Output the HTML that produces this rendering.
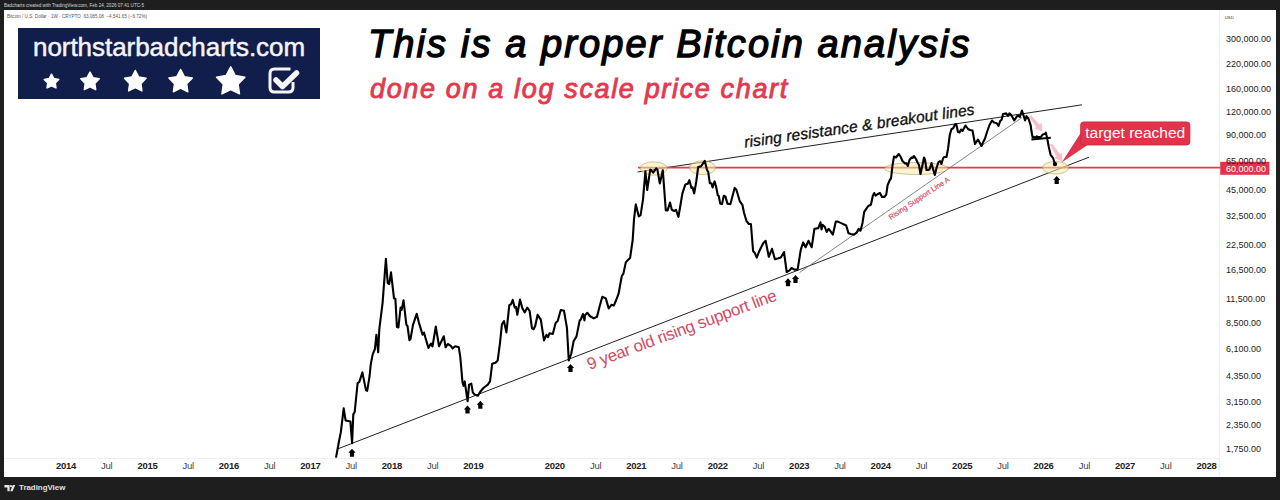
<!DOCTYPE html>
<html><head><meta charset="utf-8"><style>
*{margin:0;padding:0;box-sizing:border-box}
html,body{width:1280px;height:500px;overflow:hidden;background:#1e1e1e;font-family:"Liberation Sans",sans-serif}
#hdr{position:absolute;left:4px;top:0;height:10px;font-size:4.6px;line-height:11px;color:#d8d8d8;white-space:nowrap}
#panel{position:absolute;left:4px;top:10px;width:1272px;height:467px;background:#fff;overflow:hidden}
#sym{position:absolute;left:7px;top:12.5px;font-size:4.6px;line-height:7px;color:#555;white-space:nowrap}
.pl{position:absolute;left:1226px;width:60px;text-align:left;font-size:9px;line-height:12px;color:#1c1c1c;white-space:nowrap}
.tl{position:absolute;top:460.4px;width:40px;text-align:center;font-size:9.5px;letter-spacing:-0.25px;line-height:12px;color:#444;white-space:nowrap}
.tl.b{font-weight:bold;color:#222}
#foot{position:absolute;left:19px;top:483.3px;font-size:7.9px;line-height:10px;font-weight:bold;color:#e0e0e0;white-space:nowrap}
#logo{position:absolute;left:18px;top:28px;width:302px;height:71px;background:#111e4c}
#logotxt{position:absolute;left:33px;top:31.5px;font-size:26px;line-height:30px;color:#f4f4f4;letter-spacing:-0.05px;-webkit-text-stroke:0.5px #f4f4f4;white-space:nowrap}
#title{position:absolute;left:368px;top:21.5px;letter-spacing:2.1px;font-size:38px;line-height:44px;font-weight:normal;-webkit-text-stroke:1.3px #000;font-style:italic;color:#000;white-space:nowrap}
#sub{position:absolute;left:370px;top:72.5px;letter-spacing:1.65px;font-size:27px;line-height:32px;font-weight:normal;-webkit-text-stroke:0.9px #e23a50;font-style:italic;color:#e23a50;white-space:nowrap}
svg{position:absolute;left:0;top:0;overflow:visible}
</style></head><body>
<div id="hdr">Badcharts created with TradingView.com, Feb 24, 2026 07:41 UTC-5</div>
<div id="panel"></div>
<svg width="1280" height="500">
  <line x1="4" y1="458.5" x2="1219" y2="458.5" stroke="#eee" stroke-width="1"/>
  <line x1="1219.5" y1="10" x2="1219.5" y2="476" stroke="#eee" stroke-width="1"/>
  <line x1="337" y1="449.2" x2="1089" y2="157.2" stroke="#222" stroke-width="1"/>
  <line x1="637.5" y1="172" x2="1082" y2="104.8" stroke="#222" stroke-width="1"/>
  <line x1="799.6" y1="272.5" x2="1022" y2="117.5" stroke="#777" stroke-width="0.9"/>
  <line x1="638" y1="167.7" x2="1220" y2="167.7" stroke="#d9404c" stroke-width="1.8"/>
  <g fill="#f9e9a8" fill-opacity="0.55" stroke="#a8935a" stroke-opacity="0.6" stroke-width="0.9">
    <ellipse cx="653.7" cy="168.5" rx="13.5" ry="6.7"/>
    <ellipse cx="702.5" cy="167.7" rx="13.1" ry="6.9"/>
    <ellipse cx="916.25" cy="168.5" rx="31.75" ry="6"/>
    <ellipse cx="1055.5" cy="167.8" rx="13.1" ry="6.3"/>
  </g>
  <path d="M336,457.6 L339.1,440.8 L340.8,432.4 L343.7,408.4 L345.6,420.4 L350.4,421.6 L352.1,443.2 L353.3,414.4 L354.7,412 L357.6,383.2 L359.3,382 L362.4,372.4 L366,390.4 L367.2,390.9 L369.6,376 L370.8,364 L372.7,354.4 L374.9,349 L376.4,334.7 L378.2,352.3 L379.3,329.2 L382.6,302.8 L385.9,258.8 L387.7,283 L389.2,284.1 L391,272.4 L394,298.4 L395.4,298.8 L396.9,327 L398.4,327.4 L400.6,307.6 L401.7,309.8 L403.5,300.2 L406.4,324.8 L407.5,325.9 L409.4,340.2 L410.5,339.1 L413,324.8 L416.7,313.8 L418.9,322.6 L422.6,334.7 L424,332.5 L425.5,338 L428.4,347.9 L431,343.5 L432.5,346.4 L435.8,326.6 L439,346.2 L441.2,341.8 L443.8,336.3 L445.6,347.3 L447.8,344 L450.8,345.8 L452.6,348.4 L455.2,346.2 L458.8,347.3 L460.3,357.2 L462.5,382.5 L463.6,385.8 L464.7,381.4 L467.6,401.2 L469.1,384.7 L471.3,383.6 L472.8,392.4 L474.6,394.6 L477.9,395.7 L480.1,392 L483.4,388 L487.8,384.7 L490,381.4 L492.2,363.8 L495.5,362.7 L497.7,360.5 L500,342.8 L501.9,324.4 L504,321.2 L506.4,332.4 L509.3,305.2 L510.9,304.4 L512.8,299.9 L514.7,307.6 L516,306.8 L517.3,314.8 L520,299.6 L522.4,308.4 L524.8,312.4 L527.2,307.6 L529.6,310.8 L532,328.4 L533.6,329.2 L535.2,326 L537.6,314.8 L540.8,319.6 L544,340.4 L546.4,334.8 L548,337.2 L549.6,333.2 L552.8,334 L555.7,322.8 L557.6,321.2 L560.8,310 L564,310.8 L566.9,327.6 L568.8,360.4 L571.2,354 L573.6,341.2 L576.5,336.4 L579.7,320.4 L580.8,319.6 L582.9,314 L584.5,320.4 L585,315.2 L587.4,312.8 L589.8,316 L593.8,318.4 L597,316.8 L599.4,307.2 L602.3,296.8 L605.8,298.4 L608.7,308.5 L611.4,304.8 L613.8,305.6 L616.2,300 L618.6,293.6 L621.8,276 L623.4,273.6 L625.8,262.4 L627.9,260 L630.1,257.9 L632.7,240 L634,219.4 L635.8,204.4 L638.8,216.4 L640.6,215.2 L643,199.6 L645.4,171.4 L647.2,190 L650.2,169.6 L651.2,170.2 L653.2,172.6 L656.2,168.4 L657.4,169.6 L659.8,183.4 L662.8,170.2 L665.8,210.4 L667.6,210.4 L670,202.6 L671.8,209.8 L674.2,211 L676,209.8 L678.4,217 L680,207.8 L682.4,193.4 L685.4,184.4 L687.8,183.8 L689.4,180.2 L691.4,188 L692.6,187.4 L694.2,193.4 L696.2,182 L698.2,167 L701,166.4 L704.8,160.8 L707,170 L708.2,171.8 L709.8,183.2 L711.4,183.2 L712.6,187.4 L714.6,181.4 L716,186.2 L717.8,195.2 L718.7,195.8 L720.2,203.6 L722,204.2 L723.8,195.8 L725.4,196.4 L727.4,203.6 L730.4,204.2 L734.6,188 L736.4,189.8 L739.4,200 L740,201.6 L742.4,204.8 L744,212.8 L746.4,220.8 L748.8,224 L750.9,224 L753.1,251.2 L754.7,252.8 L756.8,257.6 L758.9,252 L760.8,248 L763.2,243.2 L765.6,240.8 L768.8,256.8 L772,248.8 L774.9,259.2 L777.6,258.4 L780.8,257.6 L784,252 L786.7,272 L789.6,270.4 L791.5,268 L794.4,269.6 L797.6,269.6 L800.8,249.6 L803.2,242.4 L805.6,247.2 L808.5,240.8 L811.7,247.2 L814.4,228.8 L815,228.8 L818.3,228.1 L820.5,222.3 L821.5,229.4 L822.8,224.9 L824.8,226.8 L826.7,232 L828.7,228.8 L830.6,231.4 L832.9,234.6 L835.8,221.6 L837.8,221.6 L842.3,223.6 L846.2,225.5 L848.5,233.3 L850.8,234 L854,234.6 L856.6,232.7 L858.6,228.8 L860.5,230.7 L862.5,222.9 L864.2,211.9 L866.4,208.6 L868.3,206 L870.9,204.7 L872.9,195.6 L874.2,193 L875.5,195.6 L877.4,194.3 L880,193 L882,196.9 L884.6,196.9 L886.3,194.3 L887.6,185.2 L889.8,180 L891,178.5 L892.5,165.5 L894,156.5 L896,157.5 L898.8,154 L900.5,156.5 L902.5,161 L905,163.5 L906.5,163.2 L907.8,166 L909.5,160 L911.5,157.5 L912.5,158 L914,156 L916,159 L917.5,162.5 L919,165 L920.5,174 L922.5,165 L924,157.5 L925,159.5 L926.5,170 L928,170 L929.5,169.5 L931.5,163 L933,169 L934.8,175 L936.5,168 L938.5,162 L940,161 L941.5,164 L943,158.5 L944,157 L946.5,157 L948,149 L949.8,135 L951.5,129 L953,128.5 L955,124.5 L956.2,124 L958,132 L959.5,132.5 L961,129.5 L962.5,131 L965.5,125.5 L968,129 L970,130 L972.5,130.5 L975,144 L978,139.5 L981.5,146 L983,142.5 L985,138.5 L987,132 L989.5,125 L992,120.5 L994,122.5 L995,122.8 L996.75,123.2 L998.5,126 L1000.25,120.75 L1001.65,119.7 L1003,114.1 L1004.45,113.75 L1006.2,113.4 L1008,115.85 L1009.35,113.4 L1011.1,114.8 L1014.25,120.4 L1016,117.6 L1017.75,115.5 L1019.85,116.9 L1021.95,110.6 L1023.35,114.8 L1025.1,120.4 L1026.5,116.2 L1028.6,119 L1030.7,125.3 L1031.4,130.8 L1032.6,137.4 L1033.8,136.8 L1035,138 L1036.8,136.4 L1038,137.4 L1041,136.8 L1042.8,134.4 L1045.2,133.8 L1045.8,132.6 L1047,137.4 L1048.8,147 L1050.6,154.8 L1053,157.8 L1055,164" fill="none" stroke="#000" stroke-width="2.1" stroke-linejoin="round"/>
  <g fill="#000"><path d="M352,448.75 l3.6,4 h-1.5 v4 h-4.2 v-4 h-1.5 z"/><path d="M467.5,405.5 l3.6,4 h-1.5 v4 h-4.2 v-4 h-1.5 z"/><path d="M480.3,400.8 l3.6,4 h-1.5 v4 h-4.2 v-4 h-1.5 z"/><path d="M570.5,364 l3.6,4 h-1.5 v4 h-4.2 v-4 h-1.5 z"/><path d="M788,278.25 l3.6,4 h-1.5 v4 h-4.2 v-4 h-1.5 z"/><path d="M795.5,275 l3.6,4 h-1.5 v4 h-4.2 v-4 h-1.5 z"/><path d="M1056.7,176 l3.6,4 h-1.5 v4 h-4.2 v-4 h-1.5 z"/></g>
  <line x1="1031.4" y1="139.4" x2="1050.8" y2="137.8" stroke="#000" stroke-width="2"/>
  <circle cx="1055" cy="164.1" r="2.2" fill="#000"/>
  <g fill="#f29aa8" fill-opacity="0.62"><polygon points="1029.0,116.8 1036.2,127.0 1034.3,128.6 1042.6,131.5 1041.4,122.8 1039.5,124.4 1031.0,115.2"/><polygon points="1049.8,144.8 1056.5,156.6 1054.4,157.9 1062.4,161.7 1062.1,152.9 1060.1,154.3 1052.0,143.4"/></g>
  <path d="M1081,132.5 L1061.7,162.5 L1087.5,145 Z" fill="#e2334a"/>
  <rect x="1080.6" y="121.9" width="109.3" height="23.1" rx="3" fill="#e2334a" stroke="#c92a3e" stroke-width="0.8"/>
  <text x="1135.2" y="137.6" text-anchor="middle" font-family="Liberation Sans" font-size="15.5" fill="#fff">target reached</text>
  <rect x="1220.2" y="161.8" width="49.2" height="13" fill="#e2334a"/>
  <text x="1266" y="171.7" text-anchor="end" font-family="Liberation Sans" font-size="9" fill="#fff">60,000.00</text>
  <text x="1224.7" y="19" font-family="Liberation Sans" font-size="4.3" fill="#333">USD</text>
  <text transform="translate(745,147.6) rotate(-8.2)" font-family="Liberation Sans" font-style="italic" font-size="15.5" letter-spacing="0.15" fill="#111" stroke="#111" stroke-width="0.35">rising resistance &amp; breakout lines</text>
  <text transform="translate(589.5,370) rotate(-20.4)" font-family="Liberation Sans" font-size="16.8" letter-spacing="-0.3" fill="#d24a64">9 year old rising support line</text>
  <text transform="translate(890.8,220) rotate(-33.5)" font-family="Liberation Sans" font-size="7.4" fill="#d9506e" stroke="#d9506e" stroke-width="0.2">Rising Support Line A</text>
</svg>
<div id="logo"></div>
<div id="logotxt">northstarbadcharts.com</div>
<svg width="1280" height="500"><polygon points="51.50,74.20 53.82,78.60 58.73,79.45 55.26,83.02 55.97,87.95 51.50,85.75 47.03,87.95 47.74,83.02 44.27,79.45 49.18,78.60" fill="#fff" stroke="#fff" stroke-width="1.5" stroke-linejoin="round"/><polygon points="90.00,72.10 92.96,77.72 99.23,78.80 94.80,83.36 95.70,89.65 90.00,86.84 84.30,89.65 85.20,83.36 80.77,78.80 87.04,77.72" fill="#fff" stroke="#fff" stroke-width="1.5" stroke-linejoin="round"/><polygon points="135.30,70.50 138.75,77.05 146.05,78.31 140.89,83.62 141.94,90.94 135.30,87.68 128.66,90.94 129.71,83.62 124.55,78.31 131.85,77.05" fill="#fff" stroke="#fff" stroke-width="1.5" stroke-linejoin="round"/><polygon points="180.60,69.50 184.36,76.63 192.30,78.00 186.68,83.78 187.83,91.75 180.60,88.20 173.37,91.75 174.52,83.78 168.90,78.00 176.84,76.63" fill="#fff" stroke="#fff" stroke-width="1.5" stroke-linejoin="round"/><polygon points="230.70,66.90 235.25,75.53 244.87,77.20 238.07,84.19 239.46,93.85 230.70,89.55 221.94,93.85 223.33,84.19 216.53,77.20 226.15,75.53" fill="#fff" stroke="#fff" stroke-width="1.5" stroke-linejoin="round"/>
  <path d="M290.5,69 L274.5,69 Q270,69 270,73.5 L270,87.5 Q270,92 274.5,92 L288.5,92 Q293,92 293,87.5 L293,82" fill="none" stroke="#f4f4f4" stroke-width="3"/>
  <polyline points="276,80 282.5,86.5 296.5,73" fill="none" stroke="#f4f4f4" stroke-width="5.5" stroke-linecap="round" stroke-linejoin="round"/>
  <g fill="#e6e6e6"><path d="M4.4,485 h5.2 v6.3 h-2.2 v-3.9 h-3 z"/><circle cx="11" cy="486.2" r="1.1"/><path d="M12.8,485 h2.4 l-2.6,6.3 h-2.4 z"/></g>
</svg>
<div id="title">This is a proper Bitcoin analysis</div>
<div id="sub">done on a log scale price chart</div>
<div id="sym">Bitcoin / U.S. Dollar · 1W · CRYPTO &nbsp;63,085.08 &nbsp;−4,541.65 (−6.72%)</div>
<div class="pl" style="top:33.0px">300,000.00</div><div class="pl" style="top:57.7px">220,000.00</div><div class="pl" style="top:83.0px">160,000.00</div><div class="pl" style="top:105.9px">120,000.00</div><div class="pl" style="top:128.8px">90,000.00</div><div class="pl" style="top:154.7px">65,000.00</div><div class="pl" style="top:184.0px">45,000.00</div><div class="pl" style="top:209.9px">32,500.00</div><div class="pl" style="top:239.2px">22,500.00</div><div class="pl" style="top:263.9px">16,500.00</div><div class="pl" style="top:292.6px">11,500.00</div><div class="pl" style="top:316.7px">8,500.00</div><div class="pl" style="top:343.1px">6,100.00</div><div class="pl" style="top:370.0px">4,350.00</div><div class="pl" style="top:395.7px">3,150.00</div><div class="pl" style="top:419.0px">2,350.00</div><div class="pl" style="top:442.5px">1,750.00</div>
<div class="tl b" style="left:46.0px">2014</div><div class="tl" style="left:86.7px">Jul</div><div class="tl b" style="left:127.5px">2015</div><div class="tl" style="left:168.2px">Jul</div><div class="tl b" style="left:208.9px">2016</div><div class="tl" style="left:249.7px">Jul</div><div class="tl b" style="left:290.4px">2017</div><div class="tl" style="left:331.1px">Jul</div><div class="tl b" style="left:371.9px">2018</div><div class="tl" style="left:412.6px">Jul</div><div class="tl b" style="left:453.4px">2019</div><div class="tl b" style="left:534.8px">2020</div><div class="tl" style="left:575.6px">Jul</div><div class="tl b" style="left:616.3px">2021</div><div class="tl" style="left:657.0px">Jul</div><div class="tl b" style="left:697.8px">2022</div><div class="tl" style="left:738.5px">Jul</div><div class="tl b" style="left:779.2px">2023</div><div class="tl" style="left:820.0px">Jul</div><div class="tl b" style="left:860.7px">2024</div><div class="tl" style="left:901.4px">Jul</div><div class="tl b" style="left:942.2px">2025</div><div class="tl" style="left:982.9px">Jul</div><div class="tl b" style="left:1023.6px">2026</div><div class="tl" style="left:1064.4px">Jul</div><div class="tl b" style="left:1105.1px">2027</div><div class="tl" style="left:1145.8px">Jul</div><div class="tl b" style="left:1186.6px">2028</div>
<div id="foot">TradingView</div>
</body></html>
